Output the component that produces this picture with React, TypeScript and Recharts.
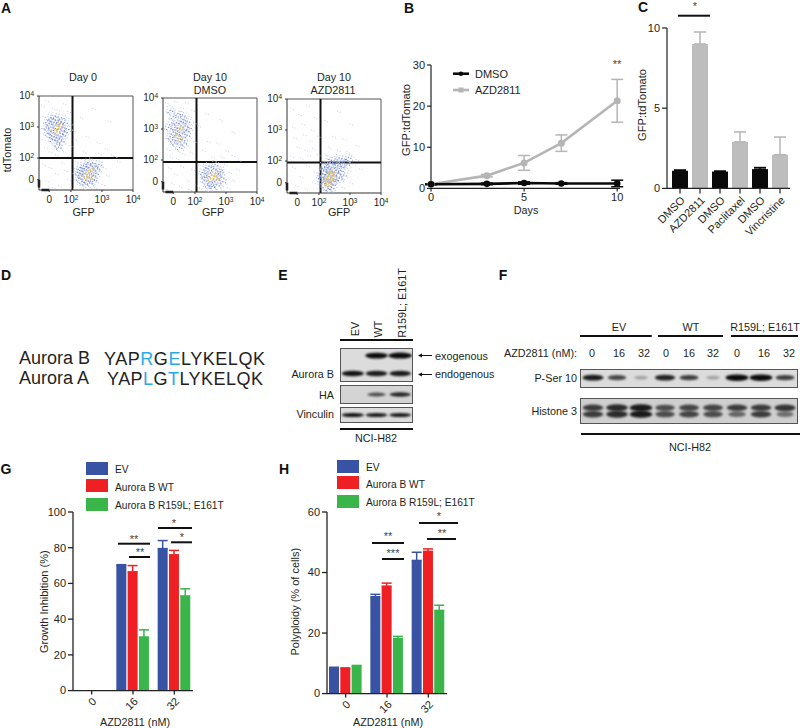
import React from 'react';
import { LineChart, Line, BarChart, Bar, ScatterChart, Scatter, XAxis, YAxis, ErrorBar, ReferenceLine } from 'recharts';

type Pt = [number, number];

const INK = '#231f20';
const BLUE = '#3953a4';
const RED = '#ee2024';
const GREEN = '#39b54a';
const GREY = '#b5b5b5';

// --- A: flow plots, read in log10 units ---
const flowTicks = [1.3, 2, 3, 4];

const day0Sparse: Pt[] = [
  [1.05, 3.7], [1.2, 3.85], [1.4, 3.6], [1.75, 3.75], [1.9, 3.5], [1.1, 3.35], [1.3, 3.45], [1.55, 3.55], [1.85, 3.3], [1.98, 3.1],
  [2.05, 2.9], [1.05, 2.95], [1.08, 2.6], [1.15, 2.35], [1.3, 2.2], [1.5, 2.1], [1.75, 2.2], [1.95, 2.4], [2.1, 2.6], [2.3, 3.3],
  [2.7, 3.6], [3.2, 3.2], [2.5, 2.7], [2.85, 2.5], [3.1, 2.3], [3.3, 2.1], [2.4, 2.2], [3.4, 2.05], [2.9, 2.15], [3.5, 1.9],
  [1.1, 1.8], [1.3, 1.7], [1.5, 1.5], [1.7, 1.85], [1.9, 1.3], [1.2, 1.25], [1.6, 1.1], [1.8, 1.6], [1.4, 1.05], [2.0, 1.05],
  [2.15, 1.9], [2.2, 1.15], [2.35, 1.95], [2.9, 1.9], [3.05, 1.7], [3.15, 1.45], [3.0, 1.15], [2.75, 1.05], [2.4, 1.02], [2.6, 2.0],
];
const day0Dense: Pt[] = [
  [1.25, 3.2], [1.35, 3.3], [1.5, 3.35], [1.7, 3.3], [1.8, 3.15], [1.85, 2.95], [1.75, 2.75], [1.7, 2.55], [1.55, 2.45], [1.4, 2.6],
  [1.25, 2.8], [1.2, 3.0], [1.35, 3.0], [1.45, 3.15], [1.6, 3.2], [1.72, 3.0], [1.65, 2.8], [1.45, 2.7], [1.35, 2.85], [1.55, 2.65],
  [1.8, 2.85], [1.3, 3.12], [1.62, 2.62], [1.42, 3.25], [1.6, 2.35], [1.5, 2.95], [1.68, 3.15], [1.38, 2.72],
  [2.2, 1.55], [2.25, 1.35], [2.3, 1.7], [2.35, 1.25], [2.4, 1.75], [2.45, 1.2], [2.55, 1.85], [2.6, 1.2], [2.7, 1.85], [2.75, 1.3],
  [2.8, 1.5], [2.85, 1.65], [2.3, 1.5], [2.42, 1.65], [2.5, 1.72], [2.62, 1.75], [2.72, 1.45], [2.48, 1.28], [2.68, 1.32], [2.35, 1.42],
  [2.58, 1.52], [2.78, 1.72], [2.9, 1.8], [2.28, 1.6],
];
const day0Core: Pt[] = [
  [1.5, 3.05], [1.6, 2.95], [1.55, 2.85], [1.65, 3.1], [1.45, 2.95], [1.58, 3.15], [1.62, 3.0], [1.5, 2.75],
  [2.45, 1.5], [2.55, 1.6], [2.6, 1.45], [2.5, 1.4], [2.65, 1.55], [2.4, 1.55], [2.7, 1.65], [2.55, 1.35],
];

const dmsoSparse: Pt[] = [
  [1.05, 3.85], [1.2, 3.75], [1.35, 3.9], [1.55, 3.7], [1.7, 3.85], [1.9, 3.6], [1.1, 3.5], [1.25, 3.6], [1.8, 3.4], [1.95, 3.2],
  [1.05, 3.1], [1.08, 2.7], [1.1, 2.35], [1.2, 2.1], [1.4, 2.05], [1.6, 2.2], [1.85, 2.25], [1.95, 2.6], [2.1, 3.1], [2.35, 3.5],
  [2.8, 3.3], [3.2, 2.9], [2.4, 2.6], [2.7, 2.55], [3.0, 2.3], [2.55, 2.1], [3.2, 2.15], [2.25, 2.3], [3.4, 2.0], [2.85, 2.1],
  [1.15, 1.75], [1.35, 1.55], [1.55, 1.8], [1.75, 1.35], [1.9, 1.7], [1.25, 1.25], [1.5, 1.15], [1.8, 1.05], [1.1, 1.05], [2.0, 1.2],
  [2.1, 1.85], [2.15, 1.1], [2.95, 1.85], [3.1, 1.6], [3.2, 1.35], [3.05, 1.1], [2.85, 1.04], [2.35, 1.02], [3.35, 1.7], [2.6, 1.98],
];
const dmsoDense: Pt[] = [
  [1.2, 3.6], [1.3, 3.4], [1.45, 3.5], [1.6, 3.45], [1.75, 3.25], [1.8, 3.05], [1.75, 2.8], [1.65, 2.55], [1.5, 2.4], [1.35, 2.55],
  [1.2, 2.75], [1.15, 3.05], [1.25, 3.2], [1.4, 3.2], [1.55, 3.25], [1.68, 3.1], [1.6, 2.85], [1.45, 2.7], [1.3, 2.9], [1.5, 3.0],
  [1.72, 2.95], [1.35, 3.05], [1.58, 2.65], [1.42, 2.85], [1.62, 3.3], [1.28, 2.65],
  [2.25, 1.6], [2.3, 1.35], [2.35, 1.75], [2.4, 1.2], [2.45, 1.8], [2.55, 1.15], [2.65, 1.85], [2.7, 1.2], [2.8, 1.7], [2.85, 1.45],
  [2.9, 1.3], [2.38, 1.5], [2.48, 1.3], [2.6, 1.72], [2.75, 1.55], [2.42, 1.62], [2.7, 1.38], [2.52, 1.22], [2.82, 1.62], [2.3, 1.48],
];
const dmsoCore: Pt[] = [
  [1.45, 3.05], [1.5, 2.9], [1.55, 3.1], [1.4, 2.8], [1.52, 2.7],
  [2.55, 1.5], [2.65, 1.55], [2.5, 1.42], [2.72, 1.62], [2.6, 1.38], [2.45, 1.55], [2.68, 1.45], [2.58, 1.62],
];

const azdSparse: Pt[] = [
  [1.1, 3.7], [1.35, 3.5], [1.6, 3.8], [1.85, 3.4], [1.15, 3.1], [1.45, 3.2], [1.75, 3.0], [1.95, 2.8], [1.2, 2.75], [1.5, 2.85],
  [1.7, 2.65], [1.3, 2.45], [1.55, 2.35], [1.8, 2.4], [1.95, 2.2], [1.1, 2.15], [1.4, 2.1], [1.65, 2.2], [2.2, 3.3], [2.6, 3.6],
  [3.0, 3.2], [2.45, 2.8], [2.8, 2.7], [3.2, 2.5], [2.3, 2.45], [2.6, 2.35], [2.9, 2.3], [2.2, 2.2], [2.5, 2.15], [2.75, 2.1],
  [1.15, 1.8], [1.4, 1.5], [1.6, 1.85], [1.8, 1.3], [1.25, 1.2], [1.55, 1.1], [1.85, 1.65], [1.95, 1.1], [2.95, 1.7], [3.1, 1.9],
  [3.0, 1.3], [2.75, 1.15], [2.4, 1.03], [2.15, 1.05], [3.2, 2.05], [2.85, 2.05], [3.05, 2.15], [2.05, 1.95], [3.3, 1.75], [2.2, 1.98],
];
const azdDense: Pt[] = [
  [2.05, 1.5], [2.1, 1.3], [2.15, 1.7], [2.2, 1.2], [2.25, 1.85], [2.3, 1.12], [2.35, 1.95], [2.45, 1.25], [2.5, 2.0], [2.55, 1.4],
  [2.6, 1.85], [2.7, 1.7], [2.75, 1.95], [2.8, 1.55], [2.15, 1.42], [2.22, 1.55], [2.28, 1.35], [2.35, 1.68], [2.42, 1.8], [2.48, 1.55],
  [2.55, 1.7], [2.62, 1.6], [2.3, 1.78], [2.18, 1.82], [2.4, 1.15], [2.66, 1.45], [2.12, 1.6], [2.38, 1.45], [2.72, 1.82], [2.9, 1.9],
  [2.85, 2.05], [2.25, 1.62], [2.46, 1.38], [2.58, 1.95], [2.08, 1.38], [2.95, 2.12], [2.65, 2.1], [2.32, 2.05],
];
const azdCore: Pt[] = [
  [2.3, 1.5], [2.35, 1.58], [2.4, 1.62], [2.28, 1.42], [2.36, 1.4], [2.44, 1.52], [2.25, 1.32], [2.32, 1.3], [2.42, 1.7], [2.5, 1.65],
  [2.2, 1.45], [2.46, 1.42], [2.3, 1.65], [2.38, 1.25],
];

// --- B ---
const days = [0, 3, 5, 7, 10];
const dmsoLine = [1, 1.1, 1.3, 1.2, 1.2];
const dmsoLineErr = [0.1, 0.2, 0.3, 0.2, 0.8];
const azdLine = [1, 3.1, 6.2, 11, 21.3];
const azdLineErr = [0.1, 0.3, 1.8, 2, 5.2];
const lineTable = days.map((d, i) => ({ d, dmso: dmsoLine[i], dmsoErr: dmsoLineErr[i], azd: azdLine[i], azdErr: azdLineErr[i] }));

// --- C ---
const drugs = ['DMSO', 'AZD2811', 'DMSO ', 'Paclitaxel', 'DMSO  ', 'Vincristine'];
const controlValues = [1.1, null, 1.05, null, 1.2, null];
const drugValues = [null, 9, null, 2.9, null, 2.1];
const controlErr = [0.05, null, 0.03, null, 0.1, null];
const drugErr = [null, 0.75, null, 0.62, null, 1.1];
const drugTable = drugs.map((name, i) => ({
  name,
  control: controlValues[i],
  controlErr: controlErr[i] == null ? null : [0, controlErr[i]],
  drug: drugValues[i],
  drugErr: drugErr[i] == null ? null : [0, drugErr[i]],
}));

// --- G, H ---
const doses = ['0', '16', '32'];
const growthEV = [null, 70, 79.5];
const growthWT = [null, 66.5, 76];
const growthMut = [null, 30, 53];
const growthEVErr = [null, 0.5, 4.5];
const growthWTErr = [null, 3.5, 2.5];
const growthMutErr = [null, 4, 4];
const polyEV = [8.3, 32, 44];
const polyWT = [8.2, 35.5, 47];
const polyMut = [9, 18.2, 27.5];
const polyEVErr = [0.4, 0.8, 2.7];
const polyWTErr = [0.3, 1, 0.8];
const polyMutErr = [0.3, 0.7, 1.7];

const groupTable = (a: any[], b: any[], c: any[], ae: any[], be: any[], ce: any[]) =>
  doses.map((dose, i) => ({
    dose, ev: a[i], wt: b[i], mut: c[i],
    evErr: ae[i] == null ? null : [0, ae[i]],
    wtErr: be[i] == null ? null : [0, be[i]],
    mutErr: ce[i] == null ? null : [0, ce[i]],
  }));

// --- E, F: band strength per lane ---
const lanesE = [1, 2, 3];
const exogenous = [0, 0.9, 1];
const endogenous = [0.85, 0.8, 0.8];
const haBand = [0, 0.5, 0.75];
const vinculin = [0.85, 0.8, 0.8];
const lanesF = [1, 2, 3, 4, 5, 6, 7, 8, 9];
const pSer = [0.8, 0.55, 0.04, 0.75, 0.6, 0.04, 1, 1, 0.6];
const histoneTop = [0.6, 0.7, 0.8, 0.5, 0.55, 0.55, 0.6, 0.6, 0.65];
const histoneLow = [0.6, 0.7, 0.8, 0.5, 0.55, 0.5, 0.35, 0.6, 0.3];

const font = '"Liberation Sans", Arial, sans-serif';

// chart frame: places the plot area exactly, with room for axes around it
function frame(l: number, t: number, r: number, b: number, bottom = 34) {
  const pad = { left: 30, top: 10, right: 12, bottom };
  return {
    style: { position: 'absolute' as const, left: l - pad.left, top: t - pad.top },
    width: r - l + pad.left + pad.right,
    height: b - t + pad.top + pad.bottom,
    margin: { top: pad.top, right: pad.right, left: 0, bottom: 0 },
    yw: pad.left,
    xh: pad.bottom,
  };
}

const toPts = (a: Pt[]) => a.map(([x, y]) => ({ x, y }));

// each read point stands for a small clump of events, so the cloud looks as dense as the picture
const clump = [[0, 0], [2.5, 1], [-2, 2], [1, -2.5], [-3, -1], [3.5, -2], [-1, 3.5], [4, 3], [-4, 1.5], [0.5, 4.5], [-2.5, -3.5]];
const speck = (fill: string, s: number, n: number) => (p: any) => (
  <g>
    {clump.slice(0, n).map(([dx, dy], i) => (
      <rect key={i} x={p.cx + dx - s / 2} y={p.cy + dy - s / 2} width={s} height={s} fill={fill} />
    ))}
  </g>
);

function FlowTick({ x, y, payload, axis }: any) {
  const v = payload.value;
  const label = v < 2 ? <tspan>0</tspan> : <><tspan>10</tspan><tspan dy={-3} fontSize={6.5}>{v}</tspan></>;
  if (axis === 'y') return <text x={x - 1} y={y + 3} textAnchor="end" fontSize={10} fill={INK}>{label}</text>;
  return <text x={x} y={y + 9} textAnchor="middle" fontSize={10} fill={INK}>{label}</text>;
}

function FlowPlot({ l, t, gx, gy, sparse, dense, core }: any) {
  const f = frame(l, t, l + 94, t + 94);
  return (
    <div style={f.style}>
      <ScatterChart width={f.width} height={f.height} margin={f.margin}>
        <XAxis type="number" dataKey="x" domain={[0.97, 4]} ticks={flowTicks} height={f.xh} interval={0} stroke="#333" tickSize={2} tick={<FlowTick axis="x" />} />
        <YAxis type="number" dataKey="y" domain={[0.97, 4]} ticks={flowTicks} width={f.yw} interval={0} stroke="#333" tickSize={2} tick={<FlowTick axis="y" />} />
        <Scatter data={toPts(sparse)} shape={speck('#c3cdee', 1, 2)} isAnimationActive={false} />
        <Scatter data={toPts(dense)} shape={speck('#b4c1ea', 1, 11)} isAnimationActive={false} />
        <Scatter data={toPts(dense)} shape={speck('#6f86cc', 1, 3)} isAnimationActive={false} />
        <Scatter data={toPts(core)} shape={speck('#e3b94a', 1.2, 3)} isAnimationActive={false} />
        <ReferenceLine x={4} stroke="#555" strokeWidth={1} />
        <ReferenceLine y={4} stroke="#555" strokeWidth={1} />
        <ReferenceLine segment={[{ x: 1.05, y: 0.97 }, { x: 1.3, y: 0.97 }]} stroke="#111" strokeWidth={2.5} />
        <ReferenceLine segment={[{ x: 0.97, y: 1.05 }, { x: 0.97, y: 1.3 }]} stroke="#111" strokeWidth={2.5} />
        <ReferenceLine x={gx} stroke="#111" strokeWidth={2} />
        <ReferenceLine y={gy} stroke="#111" strokeWidth={2} />
      </ScatterChart>
    </div>
  );
}

// blot panel: lane on x, row on y, band strength sets width and darkness
const band = (w: number, h: number) => (p: any) => {
  const s = p.payload.s;
  if (!s) return <g />;
  const bw = w * (0.55 + 0.45 * s);
  const bh = h * (0.55 + 0.45 * s);
  return <ellipse cx={p.cx} cy={p.cy} rx={bw / 2} ry={bh / 2} fill={`rgba(12,12,12,${Math.min(1, 0.25 + s * 0.85)})`} style={{ filter: 'blur(0.8px)' }} />;
};

function Blot({ l, t, w, h, lanes, rows, domain, bw, bh, bg = '#dcdcdc' }: any) {
  return (
    <div style={{ position: 'absolute', left: l, top: t, width: w, height: h, background: bg, boxSizing: 'border-box', border: '1px solid #555', overflow: 'hidden' }}>
      <ScatterChart width={w - 2} height={h - 2} margin={{ top: 0, right: 0, left: 0, bottom: 0 }}>
        <XAxis type="number" dataKey="x" domain={[0.5, lanes.length + 0.5]} hide />
        <YAxis type="number" dataKey="y" domain={domain} hide />
        {rows.map((r: any, k: number) => (
          <Scatter key={k} data={lanes.map((x: number, i: number) => ({ x, y: r.y, s: r.values[i] }))} shape={band(bw, bh)} isAnimationActive={false} />
        ))}
      </ScatterChart>
    </div>
  );
}

function GroupBars({ l, t, r, b, data, top, ticks }: any) {
  const f = frame(l, t, r, b);
  const series = [['ev', BLUE], ['wt', RED], ['mut', GREEN]];
  return (
    <div style={f.style}>
      <BarChart width={f.width} height={f.height} margin={f.margin} data={data} barSize={10} barGap={1.3} barCategoryGap={0}>
        <XAxis dataKey="dose" height={f.xh} padding={{ left: -2, right: -2 }} stroke="#222" strokeWidth={1.3} tickSize={4} interval={0} angle={-45} textAnchor="end" tick={{ fontSize: 11, fill: INK }} />
        <YAxis domain={[0, top]} ticks={ticks} width={f.yw} stroke="#222" strokeWidth={1.3} tickSize={5} interval={0} tick={{ fontSize: 11, fill: INK }} />
        {series.map(([key, colour]) => (
          <Bar key={key} dataKey={key} fill={colour} isAnimationActive={false}>
            <ErrorBar dataKey={key + 'Err'} direction="y" width={5} stroke={colour} strokeWidth={1.5} />
          </Bar>
        ))}
      </BarChart>
    </div>
  );
}

const T = ({ x, y, a = 'middle', s = 10.8, rot, c = INK, w, children }: any) => (
  <text x={x} y={y} textAnchor={a} fontSize={s} fill={c} fontWeight={w} dominantBaseline="central" transform={rot ? `rotate(${rot} ${x} ${y})` : undefined}>{children}</text>
);
const Rule = ({ x1, x2, y, sw = 2 }: any) => <line x1={x1} x2={x2} y1={y} y2={y} stroke="#111" strokeWidth={sw} />;

const LegendG = ({ x, tx, ys, cys }: any) => (
  <>
    {[BLUE, RED, GREEN].map((c, i) => <rect key={c} x={x} y={ys[i]} width={22} height={13} fill={c} />)}
    {['EV', 'Aurora B WT', 'Aurora B R159L; E161T'].map((s, i) => <T key={s} x={tx} y={cys[i]} a="start" s={10.2}>{s}</T>)}
  </>
);

export default function App() {
  const fb = frame(431, 65.3, 620, 188.7);
  const fc = frame(667, 28.3, 790, 188.7, 70);
  return (
    <div style={{ position: 'absolute', left: 0, top: 0, width: 800, height: 728, background: '#fff', fontFamily: font, overflow: 'hidden' }}>
      <FlowPlot l={38.5} t={96} gx={2.05} gy={2} sparse={day0Sparse} dense={day0Dense} core={day0Core} />
      <FlowPlot l={162.7} t={98} gx={2.05} gy={1.94} sparse={dmsoSparse} dense={dmsoDense} core={dmsoCore} />
      <FlowPlot l={287} t={98.5} gx={2.05} gy={1.95} sparse={azdSparse} dense={azdDense} core={azdCore} />

      <div style={fb.style}>
        <LineChart width={fb.width} height={fb.height} margin={fb.margin} data={lineTable}>
          <XAxis type="number" dataKey="d" domain={[0, 10.15]} ticks={[0, 5, 10]} height={fb.xh} stroke="#222" strokeWidth={1.2} tickSize={3} tick={{ fontSize: 11, fill: INK }} />
          <YAxis domain={[0, 30]} ticks={[0, 10, 20, 30]} width={fb.yw} stroke="#222" strokeWidth={1.2} tickSize={4} tick={{ fontSize: 11, fill: INK }} />
          <Line dataKey="azd" stroke={GREY} strokeWidth={2.6} dot={{ r: 2.2, fill: GREY, stroke: GREY }} isAnimationActive={false}>
            <ErrorBar dataKey="azdErr" direction="y" width={6} stroke={GREY} strokeWidth={1.5} />
          </Line>
          <Line dataKey="dmso" stroke="#0a0a0a" strokeWidth={2.6} dot={{ r: 2, fill: '#0a0a0a', stroke: '#0a0a0a' }} isAnimationActive={false}>
            <ErrorBar dataKey="dmsoErr" direction="y" width={6} stroke="#0a0a0a" strokeWidth={1.5} />
          </Line>
        </LineChart>
      </div>

      <div style={fc.style}>
        <BarChart width={fc.width} height={fc.height} margin={fc.margin} data={drugTable} barSize={16} barGap={-16}>
          <XAxis dataKey="name" height={fc.xh} padding={{ left: 3, right: 0 }} stroke="#222" strokeWidth={1.2} tickSize={5} interval={0} angle={-45} textAnchor="end" tick={{ fontSize: 11, fill: INK }} />
          <YAxis domain={[0, 10]} ticks={[0, 5, 10]} width={fc.yw} stroke="#222" strokeWidth={1.2} tickSize={5} tick={{ fontSize: 11, fill: INK }} />
          <Bar dataKey="control" fill="#0a0a0a" isAnimationActive={false}>
            <ErrorBar dataKey="controlErr" direction="y" width={6} stroke="#0a0a0a" strokeWidth={1.5} />
          </Bar>
          <Bar dataKey="drug" fill="#bdbdbd" isAnimationActive={false}>
            <ErrorBar dataKey="drugErr" direction="y" width={6} stroke="#b5b5b5" strokeWidth={1.5} />
          </Bar>
        </BarChart>
      </div>

      <Blot l={340} t={348} w={73} h={34} lanes={lanesE} domain={[0.58, 2.37]} bw={24} bh={6}
        rows={[{ y: 2, values: exogenous }, { y: 1, values: endogenous }]} />
      <Blot l={340} t={385} w={73} h={19} lanes={lanesE} domain={[0, 2]} bw={24} bh={5} bg="#d4d4d4" rows={[{ y: 1, values: haBand }]} />
      <Blot l={340} t={407} w={73} h={16} lanes={lanesE} domain={[0, 2]} bw={24} bh={4.5} rows={[{ y: 1, values: vinculin }]} />

      <Blot l={580} t={369} w={218} h={19} lanes={lanesF} domain={[0, 2]} bw={23} bh={6.5} rows={[{ y: 1.1, values: pSer }]} />
      <Blot l={580} t={398} w={218} h={26} lanes={lanesF} domain={[0, 3]} bw={25} bh={8} bg="#cfcfcf"
        rows={[{ y: 1.9, values: histoneTop }, { y: 1.1, values: histoneLow }]} />

      <GroupBars l={72.7} t={511.7} r={192.7} b={690.3} data={groupTable(growthEV, growthWT, growthMut, growthEVErr, growthWTErr, growthMutErr)} top={100} ticks={[0, 20, 40, 60, 80, 100]} />
      <GroupBars l={327.3} t={511.7} r={447.3} b={693.3} data={groupTable(polyEV, polyWT, polyMut, polyEVErr, polyWTErr, polyMutErr)} top={60} ticks={[0, 20, 40, 60]} />

      <svg width={800} height={728} style={{ position: 'absolute', left: 0, top: 0, pointerEvents: 'none' }}>
        {/* panel letters */}
        {[['A', 6, 8], ['B', 409, 8], ['C', 643, 7], ['D', 6, 275], ['E', 283, 275], ['F', 503, 275], ['G', 6, 469], ['H', 284, 469]].map(([s, x, y]: any) => (
          <T key={s} x={x} y={y} s={14} w="bold" c="#111">{s}</T>
        ))}

        {/* A */}
        <T x={83} y={77}>Day 0</T>
        <T x={210} y={77}>Day 10</T>
        <T x={210} y={90}>DMSO</T>
        <T x={334} y={77}>Day 10</T>
        <T x={333} y={90}>AZD2811</T>
        <T x={7} y={150} rot={-90}>tdTomato</T>
        <T x={83.5} y={212}>GFP</T>
        <T x={213} y={212}>GFP</T>
        <T x={339} y={212}>GFP</T>

        {/* B */}
        <T x={406} y={120} rot={-90} s={11.2}>GFP:tdTomato</T>
        <T x={526} y={210}>Days</T>
        <T x={617} y={64} s={11} c="#444">**</T>
        <line x1={453} x2={469} y1={73.7} y2={73.7} stroke="#0a0a0a" strokeWidth={2.6} />
        <circle cx={461} cy={73.7} r={2.2} fill="#0a0a0a" />
        <T x={475} y={73.7} a="start" s={11}>DMSO</T>
        <line x1={453} x2={469} y1={90} y2={90} stroke={GREY} strokeWidth={2.6} />
        <rect x={458.5} y={87.5} width={5} height={5} fill={GREY} />
        <T x={475} y={90} a="start" s={11}>AZD2811</T>

        {/* C */}
        <T x={642} y={105} rot={-90} s={11.2}>GFP:tdTomato</T>
        <T x={695} y={6} s={11} c="#444">*</T>
        <Rule x1={678} x2={710} y={15.7} />

        {/* D */}
        <T x={19} y={358} a="start" s={18}>Aurora B</T>
        <text x={104} y={365} fontSize={18} fill={INK} textLength={161}>YAP<tspan fill="#29abe2">R</tspan>G<tspan fill="#29abe2">E</tspan>LYKELQK</text>
        <T x={19} y={378} a="start" s={18}>Aurora A</T>
        <text x={107} y={385} fontSize={18} fill={INK} textLength={156}>YAP<tspan fill="#29abe2">L</tspan>G<tspan fill="#29abe2">T</tspan>LYKELQK</text>

        {/* E */}
        <T x={355} y={329} rot={-90}>EV</T>
        <T x={378} y={329} rot={-90}>WT</T>
        <T x={402} y={303} rot={-90} s={10.8}>R159L; E161T</T>
        <Rule x1={340} x2={413} y={340} />
        <Rule x1={340} x2={413} y={429} />
        <T x={376} y={438}>NCI-H82</T>
        <T x={334} y={374} a="end">Aurora B</T>
        <T x={334} y={395} a="end">HA</T>
        <T x={334} y={414} a="end">Vinculin</T>
        <line x1={419} x2={432} y1={355.5} y2={355.5} stroke="#111" strokeWidth={1} />
        <path d="M418 355.5 l4 -2 v4 z" fill="#111" />
        <T x={435} y={355.5} a="start">exogenous</T>
        <line x1={419} x2={432} y1={374.5} y2={374.5} stroke="#111" strokeWidth={1} />
        <path d="M418 374.5 l4 -2 v4 z" fill="#111" />
        <T x={435} y={374} a="start">endogenous</T>

        {/* F */}
        <T x={619} y={327}>EV</T>
        <T x={691} y={327}>WT</T>
        <T x={765} y={327}>R159L; E161T</T>
        <Rule x1={580} x2={651.7} y={336} />
        <Rule x1={658} x2={723} y={336} />
        <Rule x1={731} x2={798} y={336} />
        <T x={577} y={353} a="end">AZD2811 (nM):</T>
        {['0', '16', '32', '0', '16', '32', '0', '16', '32'].map((s, i) => (
          <T key={i} x={[592, 619, 644, 666, 689, 713, 737, 764, 789][i]} y={353}>{s}</T>
        ))}
        <T x={577} y={378} a="end">P-Ser 10</T>
        <T x={577} y={411} a="end">Histone 3</T>
        <Rule x1={581} x2={800} y={434} />
        <T x={690} y={447}>NCI-H82</T>

        {/* G */}
        <LegendG x={86} tx={115} ys={[462, 479, 498]} cys={[469, 487, 505]} />
        <T x={44} y={601.7} rot={-90} s={11}>Growth Inhibition (%)</T>
        <T x={135} y={722}>AZD2811 (nM)</T>
        <Rule x1={118} x2={150} y={543.7} />
        <Rule x1={129} x2={150} y={557} />
        <Rule x1={158} x2={192} y={528} />
        <Rule x1={171} x2={192} y={542.3} />
        <T x={134} y={539} s={11} c="#444">**</T>
        <T x={140} y={552} s={11} c="#444">**</T>
        <T x={174} y={523} s={11} c="#444">*</T>
        <T x={182} y={537} s={11} c="#444">*</T>

        {/* H */}
        <LegendG x={337} tx={366} ys={[460, 476, 495]} cys={[467, 484, 502]} />
        <T x={295} y={601.7} rot={-90} s={11}>Polyploidy (% of cells)</T>
        <T x={388} y={722}>AZD2811 (nM)</T>
        <Rule x1={372} x2={404} y={543} />
        <Rule x1={382} x2={404} y={559} />
        <Rule x1={419} x2={458} y={523} />
        <Rule x1={427} x2={456} y={539} />
        <T x={388} y={536} s={11} c="#444">**</T>
        <T x={393} y={553} s={11} c="#444">***</T>
        <T x={439} y={516} s={11} c="#444">*</T>
        <T x={442} y={533} s={11} c="#444">**</T>
      </svg>
    </div>
  );
}
